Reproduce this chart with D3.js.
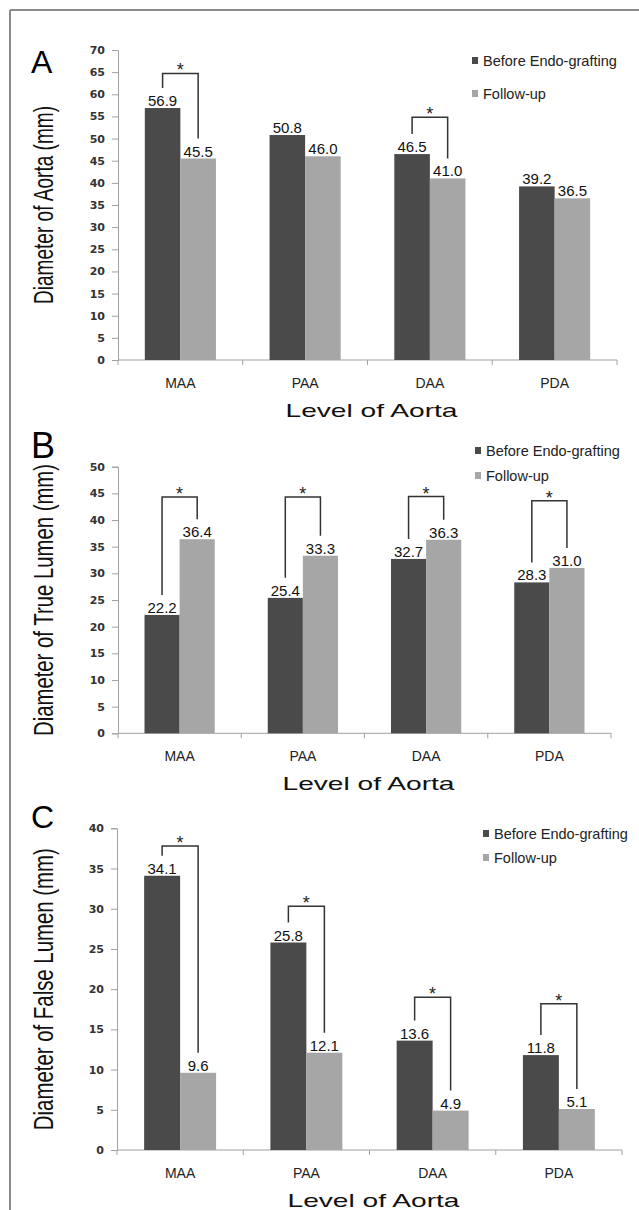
<!DOCTYPE html>
<html lang="en">
<head>
<meta charset="UTF-8">
<title>Aorta diameters</title>
<style>
    body { margin: 0; padding: 0; background: #fff; overflow: hidden; }
    svg { display: block; }
</style>
</head>
<body>
<div id="chart"></div>
<script src="https://cdn.jsdelivr.net/npm/d3@7"></script>
<script>
    // values
    const categories = ["MAA", "PAA", "DAA", "PDA"];
    const seriesNames = ["Before Endo-grafting", "Follow-up"];

    const aortaBefore = [56.9, 50.8, 46.5, 39.2];
    const aortaFollow = [45.5, 46.0, 41.0, 36.5];
    const trueBefore = [22.2, 25.4, 32.7, 28.3];
    const trueFollow = [36.4, 33.3, 36.3, 31.0];
    const falseBefore = [34.1, 25.8, 13.6, 11.8];
    const falseFollow = [9.6, 12.1, 4.9, 5.1];

    // height of the significance bracket (in mm), null = none
    const aortaBrackets = [64.7, null, 54.8, null];
    const trueBrackets = [44.3, 44.3, 44.4, 43.6];
    const falseBrackets = [37.8, 30.3, 19.0, 18.2];

    const yTitles = ["Diameter of Aorta (mm)", "Diameter of True Lumen (mm)", "Diameter of False Lumen (mm)"];
    const xTitle = "Level of Aorta";

    const colors = ["#4a4a4a", "#a6a6a6"];

    const width = 639, height = 1210;

    const svg = d3.select("#chart").append("svg")
        .attr("width", width)
        .attr("height", height);

    // frame (top and left edges only, like the scan)
    svg.append("line").attr("x1", 10).attr("y1", 10).attr("x2", width).attr("y2", 10)
        .attr("stroke", "#8a8a8a").attr("stroke-width", 2);
    svg.append("line").attr("x1", 10).attr("y1", 10).attr("x2", 10).attr("y2", height)
        .attr("stroke", "#8a8a8a").attr("stroke-width", 2);

    const panels = [
        { letter: "A", letterY: 73, letterSize: 32, before: aortaBefore, follow: aortaFollow, brackets: aortaBrackets,
          yMax: 70, top: 50, bottom: 360, left: 118, right: 617, legendX: 472, legendY: 61, legendGap: 33, title: yTitles[0], titleLen: 198 },
        { letter: "B", letterY: 458, letterSize: 36, before: trueBefore, follow: trueFollow, brackets: trueBrackets,
          yMax: 50, top: 466.7, bottom: 733.3, left: 118, right: 611, legendX: 475, legendY: 451, legendGap: 25, title: yTitles[1], titleLen: 272 },
        { letter: "C", letterY: 828, letterSize: 32, before: falseBefore, follow: falseFollow, brackets: falseBrackets,
          yMax: 40, top: 828.3, bottom: 1150, left: 117, right: 622, legendX: 483, legendY: 834, legendGap: 24, title: yTitles[2], titleLen: 282 }
    ];

    panels.forEach(drawPanel);

    function drawPanel(p) {
        const g = svg.append("g");

        const x0 = d3.scaleBand()
            .domain(categories)
            .range([p.left, p.right])
            .paddingInner(0.43)
            .paddingOuter(0.215);

        const x1 = d3.scaleBand()
            .domain([0, 1])
            .range([0, x0.bandwidth()]);

        const y = d3.scaleLinear()
            .domain([0, p.yMax])
            .range([p.bottom, p.top]);

        // y axis
        const yAxis = g.append("g")
            .attr("transform", `translate(${p.left},0)`)
            .call(d3.axisLeft(y).tickValues(d3.range(0, p.yMax + 1, 5)).tickSize(6).tickPadding(7));
        yAxis.select(".domain").attr("stroke", "#a0a0a0");
        yAxis.selectAll(".tick line").attr("stroke", "#a0a0a0");
        yAxis.selectAll(".tick text")
            .attr("font-family", "DejaVu Sans")
            .attr("font-weight", "bold")
            .attr("font-size", 11)
            .attr("fill", "#333");

        // x axis with ticks at category boundaries
        const bounds = d3.range(categories.length + 1).map(i => p.left + i * x0.step());
        g.append("line")
            .attr("x1", p.left).attr("x2", p.right)
            .attr("y1", y(0)).attr("y2", y(0))
            .attr("stroke", "#a0a0a0");
        g.selectAll(".xtick").data(bounds).enter().append("line")
            .attr("x1", d => d).attr("x2", d => d)
            .attr("y1", y(0)).attr("y2", y(0) + 5)
            .attr("stroke", "#a0a0a0");
        g.selectAll(".xlabel").data(categories).enter().append("text")
            .attr("x", d => x0(d) + x0.bandwidth() / 2)
            .attr("y", y(0) + 28)
            .attr("text-anchor", "middle")
            .attr("font-family", "Liberation Sans, Arial, sans-serif")
            .attr("font-size", 14)
            .attr("fill", "#222")
            .text(d => d);

        // bars
        const rows = categories.map((c, i) => ({ cat: c, vals: [p.before[i], p.follow[i]], bracket: p.brackets[i] }));
        const grp = g.selectAll(".grp").data(rows).enter().append("g")
            .attr("transform", d => `translate(${x0(d.cat)},0)`);

        grp.selectAll("rect").data(d => d.vals).enter().append("rect")
            .attr("x", (d, i) => x1(i))
            .attr("y", d => y(d))
            .attr("width", x1.bandwidth())
            .attr("height", d => y(0) - y(d))
            .attr("fill", (d, i) => colors[i]);

        grp.selectAll(".val").data(d => d.vals).enter().append("text")
            .attr("x", (d, i) => x1(i) + x1.bandwidth() / 2)
            .attr("y", d => y(d) - 2)
            .attr("text-anchor", "middle")
            .attr("font-family", "Liberation Sans, Arial, sans-serif")
            .attr("font-size", 15)
            .attr("fill", "#111")
            .text(d => d3.format(".1f")(d));

        // significance brackets
        const br = grp.filter(d => d.bracket !== null);
        br.append("path")
            .attr("d", d => {
                const xa = x1(0) + x1.bandwidth() / 2;
                const xb = x1(1) + x1.bandwidth() / 2;
                const yt = y(d.bracket);
                return `M${xa},${y(d.vals[0]) - 20}V${yt}H${xb}V${y(d.vals[1]) - 20}`;
            })
            .attr("fill", "none")
            .attr("stroke", "#333")
            .attr("stroke-width", 1.5);
        br.append("text")
            .attr("x", x0.bandwidth() / 2)
            .attr("y", d => y(d.bracket) + 3)
            .attr("text-anchor", "middle")
            .attr("font-family", "Liberation Sans, Arial, sans-serif")
            .attr("font-size", 18)
            .attr("fill", "#222")
            .text("*");

        // panel letter
        g.append("text")
            .attr("x", 31)
            .attr("y", p.letterY)
            .attr("font-family", "Liberation Sans, Arial, sans-serif")
            .attr("font-size", p.letterSize)
            .attr("fill", "#000")
            .text(p.letter);

        // y title, narrow and tall
        g.append("text")
            .attr("transform", `translate(53,${(p.top + p.bottom) / 2}) rotate(-90)`)
            .attr("text-anchor", "middle")
            .attr("font-family", "Liberation Sans, Arial, sans-serif")
            .attr("font-size", 28)
            .attr("textLength", p.titleLen)
            .attr("lengthAdjust", "spacingAndGlyphs")
            .attr("fill", "#111")
            .text(p.title);

        // x title, wide
        g.append("text")
            .attr("x", (p.left + p.right) / 2 + 4)
            .attr("y", y(0) + 57)
            .attr("text-anchor", "middle")
            .attr("font-family", "Liberation Sans, Arial, sans-serif")
            .attr("font-size", 19)
            .attr("textLength", 172)
            .attr("lengthAdjust", "spacingAndGlyphs")
            .attr("fill", "#111")
            .text(xTitle);

        // legend
        const leg = g.selectAll(".leg").data(seriesNames).enter().append("g")
            .attr("transform", (d, i) => `translate(${p.legendX},${p.legendY + i * p.legendGap})`);
        leg.append("rect")
            .attr("x", 0).attr("y", -4)
            .attr("width", 6).attr("height", 7)
            .attr("fill", (d, i) => colors[i]);
        leg.append("text")
            .attr("x", 11)
            .attr("y", 5)
            .attr("font-family", "Liberation Sans, Arial, sans-serif")
            .attr("font-size", 14.5)
            .attr("fill", "#222")
            .text(d => d);
    }
</script>
</body>
</html>
